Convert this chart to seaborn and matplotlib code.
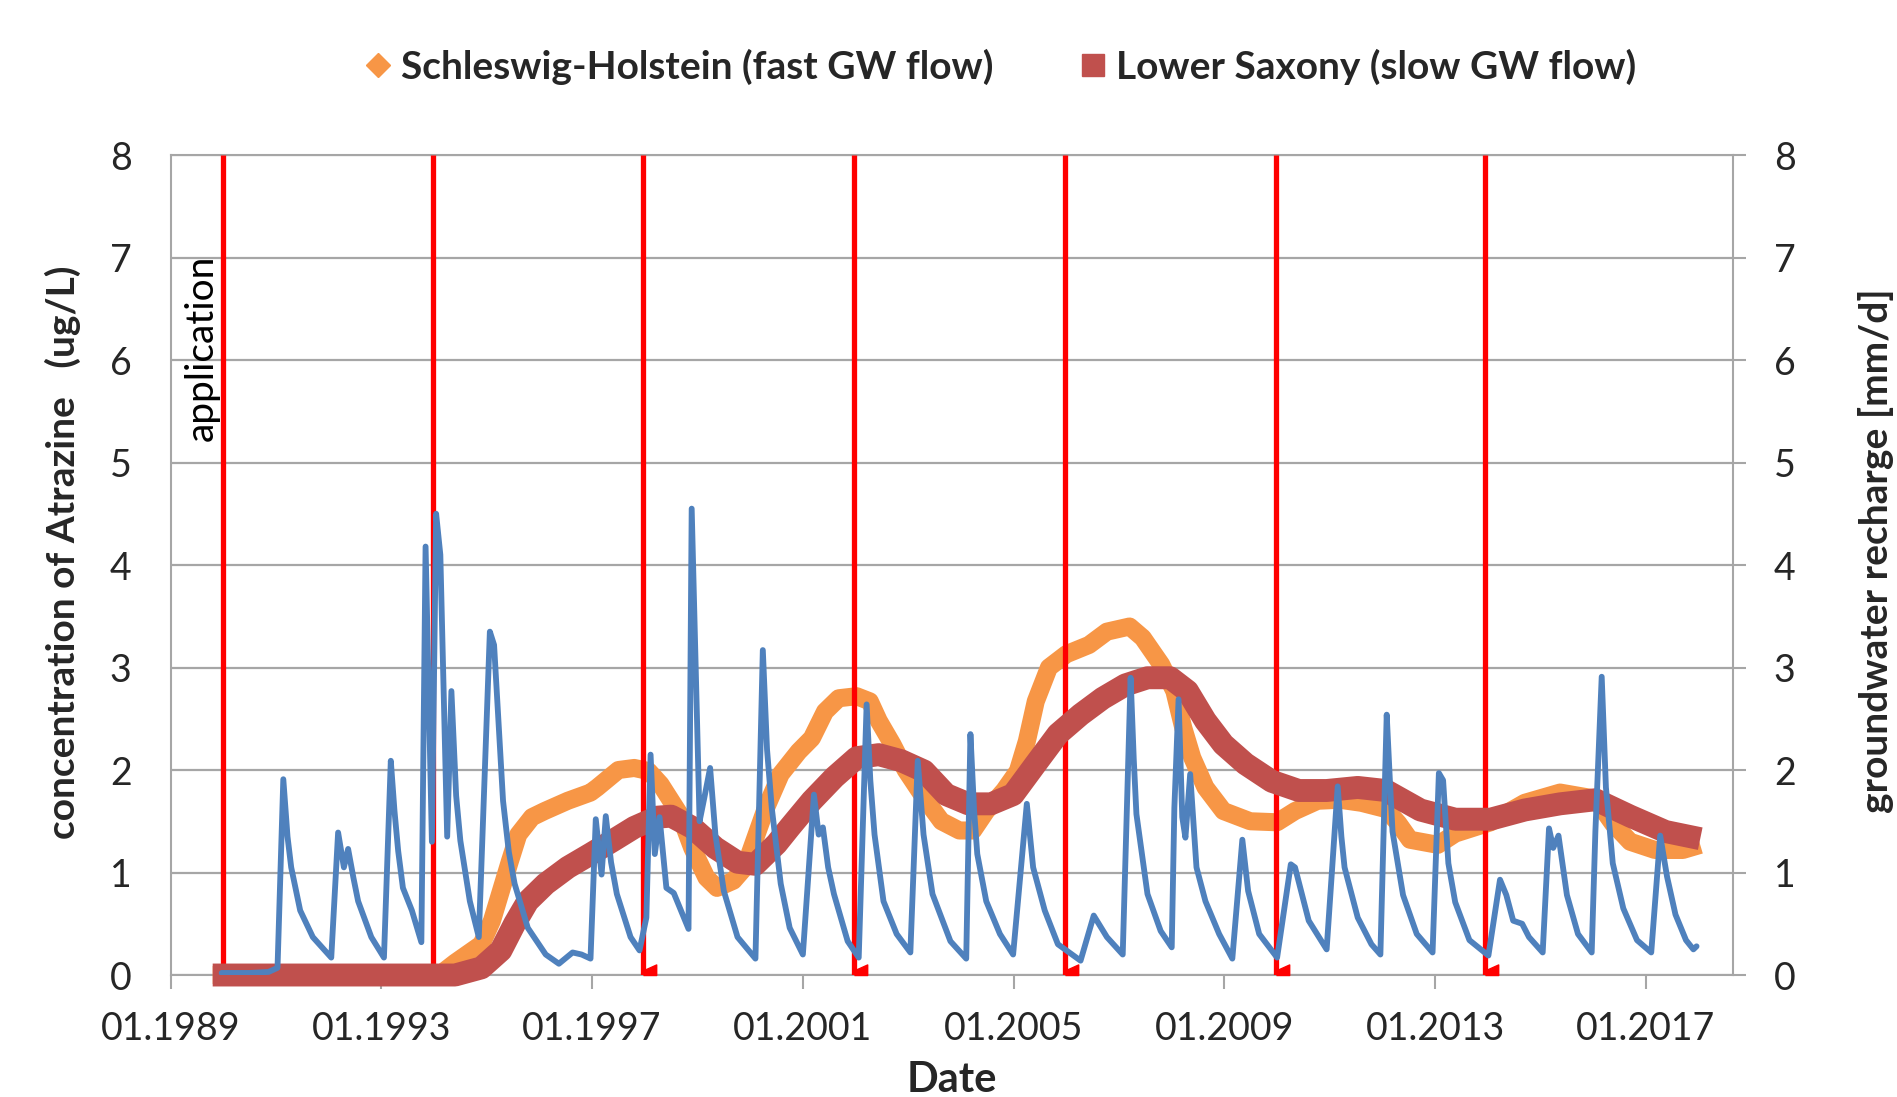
import numpy as np
import pandas as pd
import matplotlib.pyplot as plt
import seaborn as sns
from matplotlib.lines import Line2D
from matplotlib.ticker import FixedLocator, FuncFormatter

sns.set_theme(style="white")
plt.rcParams['font.family'] = ['Lato', 'DejaVu Sans']

# --- data (decimal years) ---
sh_year = [1989.8, 1994.1, 1994.4, 1994.9, 1995.1, 1995.27, 1995.44, 1995.6, 1995.86, 1996.1,
           1996.54, 1996.97, 1997.1, 1997.5, 1997.8, 1998.07, 1998.3, 1998.66, 1998.9, 1999.17,
           1999.37, 1999.68, 1999.9, 2000.3, 2000.58, 2000.92, 2001.17, 2001.42, 2001.68, 2002.02,
           2002.27, 2002.44, 2002.7, 2002.95, 2003.3, 2003.63, 2003.97, 2004.23, 2004.48, 2004.82,
           2005.08, 2005.25, 2005.42, 2005.67, 2006.0, 2006.43, 2006.77, 2007.2, 2007.45, 2007.8,
           2008.05, 2008.22, 2008.39, 2008.64, 2008.98, 2009.49, 2010.0, 2010.34, 2010.77, 2011.19,
           2011.6, 2012.06, 2012.3, 2012.52, 2013.05, 2013.38, 2014.05, 2014.7, 2015.37, 2016.04,
           2016.37, 2016.7, 2017.17, 2017.7, 2018.03]
sh_conc = [0.0, 0.0, 0.12, 0.3, 0.53, 0.82, 1.11, 1.37, 1.54, 1.6,
           1.7, 1.78, 1.83, 2.0, 2.02, 1.99, 1.86, 1.57, 1.24, 0.95,
           0.85, 0.92, 1.05, 1.63, 1.96, 2.18, 2.31, 2.57, 2.7, 2.72,
           2.67, 2.48, 2.25, 2.0, 1.73, 1.5, 1.41, 1.41, 1.6, 1.8,
           1.99, 2.28, 2.67, 3.0, 3.13, 3.22, 3.35, 3.4, 3.29, 3.03,
           2.77, 2.41, 2.12, 1.83, 1.6, 1.5, 1.49, 1.6, 1.7, 1.71,
           1.68, 1.62, 1.48, 1.32, 1.27, 1.38, 1.49, 1.68, 1.78, 1.72,
           1.48, 1.3, 1.22, 1.22, 1.27]

ls_year = [1989.8, 1994.4, 1994.9, 1995.27, 1995.53, 1995.78, 1996.12, 1996.54, 1996.97, 1997.39,
           1997.8, 1998.24, 1998.5, 1998.9, 1999.34, 1999.76, 2000.1, 2000.5, 2000.75, 2001.17,
           2001.6, 2002.02, 2002.44, 2002.87, 2003.3, 2003.72, 2004.14, 2004.57, 2004.99, 2005.42,
           2005.84, 2006.27, 2006.69, 2007.12, 2007.54, 2007.97, 2008.3, 2008.64, 2008.98, 2009.4,
           2009.9, 2010.41, 2010.94, 2011.53, 2012.06, 2012.72, 2013.38, 2014.05, 2014.7, 2015.37,
           2016.04, 2016.7, 2017.37, 2018.03]
ls_conc = [0.0, 0.0, 0.07, 0.24, 0.5, 0.72, 0.89, 1.05, 1.18, 1.31,
           1.44, 1.54, 1.55, 1.44, 1.24, 1.1, 1.08, 1.28, 1.44, 1.7,
           1.93, 2.12, 2.15, 2.09, 1.99, 1.76, 1.67, 1.67, 1.76, 2.06,
           2.35, 2.54, 2.7, 2.83, 2.9, 2.9, 2.77, 2.48, 2.25, 2.06,
           1.89, 1.8, 1.8, 1.83, 1.8, 1.61, 1.52, 1.52, 1.61, 1.67,
           1.71, 1.55, 1.4, 1.33]

gw_year = [1989.97, 1990.5, 1990.86, 1991.03, 1991.14, 1991.22, 1991.29, 1991.46, 1991.7, 1992.05,
           1992.18, 1992.29, 1992.37, 1992.47, 1992.56, 1992.81, 1993.05, 1993.18, 1993.25, 1993.32,
           1993.41, 1993.58, 1993.76, 1993.84, 1993.96, 1994.04, 1994.12, 1994.25, 1994.33, 1994.42,
           1994.5, 1994.68, 1994.85, 1995.06, 1995.14, 1995.31, 1995.42, 1995.53, 1995.78, 1996.12,
           1996.37, 1996.63, 1996.8, 1996.97, 1997.07, 1997.18, 1997.26, 1997.36, 1997.47, 1997.73,
           1997.9, 1998.03, 1998.11, 1998.19, 1998.28, 1998.41, 1998.55, 1998.75, 1998.83, 1998.89,
           1999.04, 1999.13, 1999.24, 1999.34, 1999.5, 1999.76, 2000.1, 2000.24, 2000.32, 2000.41,
           2000.58, 2000.75, 2001.0, 2001.21, 2001.3, 2001.38, 2001.48, 2001.59, 2001.85, 2002.06,
           2002.21, 2002.28, 2002.36, 2002.53, 2002.78, 2003.04, 2003.18, 2003.29, 2003.46, 2003.8,
           2004.1, 2004.18, 2004.25, 2004.31, 2004.48, 2004.74, 2004.99, 2005.25, 2005.37, 2005.59,
           2005.84, 2006.27, 2006.52, 2006.77, 2007.07, 2007.22, 2007.28, 2007.33, 2007.54, 2007.79,
           2008.0, 2008.05, 2008.13, 2008.2, 2008.26, 2008.35, 2008.47, 2008.64, 2008.9, 2009.15,
           2009.34, 2009.45, 2009.66, 2010.0, 2010.26, 2010.34, 2010.6, 2010.94, 2011.15, 2011.22,
           2011.28, 2011.53, 2011.79, 2011.96, 2012.08, 2012.14, 2012.19, 2012.39, 2012.65, 2012.95,
           2013.07, 2013.15, 2013.25, 2013.38, 2013.65, 2014.01, 2014.23, 2014.35, 2014.48, 2014.65,
           2014.78, 2015.04, 2015.16, 2015.24, 2015.34, 2015.5, 2015.71, 2015.97, 2016.04, 2016.16,
           2016.24, 2016.37, 2016.57, 2016.83, 2017.1, 2017.27, 2017.4, 2017.56, 2017.76, 2017.9,
           2017.96]
gw_recharge = [0.02, 0.02, 0.03, 0.07, 1.91, 1.35, 1.05, 0.63, 0.37, 0.17,
               1.39, 1.05, 1.23, 0.95, 0.72, 0.37, 0.17, 2.09, 1.6, 1.21,
               0.85, 0.63, 0.32, 4.18, 1.3, 4.5, 4.1, 1.35, 2.77, 1.75,
               1.31, 0.72, 0.37, 3.35, 3.22, 1.7, 1.2, 0.89, 0.46, 0.2,
               0.11, 0.22, 0.2, 0.16, 1.52, 0.98, 1.55, 1.1, 0.79, 0.37,
               0.24, 0.56, 2.15, 1.18, 1.54, 0.85, 0.8, 0.55, 0.45, 4.55,
               1.5, 1.73, 2.02, 1.37, 0.82, 0.37, 0.16, 3.17, 2.2, 1.63,
               0.89, 0.46, 0.2, 1.76, 1.37, 1.44, 1.05, 0.79, 0.33, 0.17,
               2.64, 1.9, 1.37, 0.72, 0.4, 0.22, 2.09, 1.37, 0.79, 0.33,
               0.16, 2.35, 1.6, 1.18, 0.72, 0.4, 0.2, 1.67, 1.05, 0.63,
               0.3, 0.14, 0.58, 0.37, 0.2, 2.9, 2.1, 1.57, 0.79, 0.43,
               0.27, 1.63, 2.69, 1.54, 1.34, 1.96, 1.05, 0.72, 0.4, 0.16,
               1.32, 0.82, 0.4, 0.17, 1.08, 1.05, 0.53, 0.25, 1.84, 1.35,
               1.05, 0.56, 0.3, 0.2, 2.54, 1.9, 1.4, 0.78, 0.4, 0.22,
               1.97, 1.9, 1.09, 0.71, 0.34, 0.19, 0.93, 0.78, 0.53, 0.5,
               0.37, 0.22, 1.43, 1.24, 1.36, 0.78, 0.4, 0.22, 1.4, 2.91,
               1.83, 1.09, 0.65, 0.34, 0.22, 1.36, 0.96, 0.59, 0.34, 0.25,
               0.28]

application_years = [1990.0, 1993.98, 1997.97, 2001.97, 2005.97, 2009.97, 2013.95]
tick_years = [1989, 1993, 1997, 2001, 2005, 2009, 2013, 2017]

sh_label = 'Schleswig-Holstein (fast GW flow)'
ls_label = 'Lower Saxony (slow GW flow)'

ORANGE = '#F79646'
BROWN = '#C0504D'
BLUE = '#4F81BD'
RED = '#FF0000'
GRID = '#A6A6A6'

sh_df = pd.DataFrame({'year': sh_year, 'conc': sh_conc})
ls_df = pd.DataFrame({'year': ls_year, 'conc': ls_conc})
gw_df = pd.DataFrame({'year': gw_year, 'recharge': gw_recharge})

fig, ax = plt.subplots(figsize=(18.97, 10.97), dpi=100)
fig.subplots_adjust(left=0.0899, right=0.9135, bottom=0.1112, top=0.8587)

sns.lineplot(data=sh_df, x='year', y='conc', ax=ax, color=ORANGE, linewidth=13,
             estimator=None, sort=False, zorder=3, clip_on=False, legend=False)
# application dates
ax.vlines(application_years, 0, 8, color=RED, linewidth=3.8, zorder=4)
flag = [(0, 0), (1, 0), (1, 0.8), (0, 0.35)]
ax.plot(application_years, [0] * len(application_years), linestyle='none', marker=flag,
        markersize=19, color=RED, zorder=4, clip_on=False)
sns.lineplot(data=ls_df, x='year', y='conc', ax=ax, color=BROWN, linewidth=16.5,
             estimator=None, sort=False, zorder=5, clip_on=False, legend=False)
for ln in ax.lines:
    ln.set_solid_capstyle('butt')
    ln.set_solid_joinstyle('round')

ax.text(1989.6, 6.12, 'application', rotation=90, ha='center', va='center',
        fontsize=28, color='black', zorder=6)

ax.set_xlim(1989.0, 2018.65)
ax.set_ylim(0, 8)
ax.xaxis.set_major_locator(FixedLocator(tick_years))
ax.xaxis.set_major_formatter(FuncFormatter(lambda v, p: f'01.{int(round(v))}'))
ax.set_yticks(range(0, 9))
ax.yaxis.grid(True, color=GRID, linewidth=1.6)
ax.set_axisbelow(True)
ax.tick_params(axis='x', direction='out', length=10, width=1.5, color=GRID,
               labelsize=27, pad=16, bottom=True)
ax.tick_params(axis='y', length=0, labelsize=27, pad=28)
for s in ax.spines.values():
    s.set_color(GRID)
    s.set_linewidth(1.5)
ax.set_xlabel('Date', fontsize=30, fontweight='bold', labelpad=10)
ax.set_ylabel('')

ax2 = ax.twinx()
sns.lineplot(data=gw_df, x='year', y='recharge', ax=ax2, color=BLUE, linewidth=4.2,
             estimator=None, sort=False, legend=False)
ax2.lines[0].set_solid_joinstyle('round')
ax2.set_ylim(0, 8)
ax2.set_yticks(range(0, 9))
ax2.set_ylabel('')
ax2.tick_params(axis='y', direction='out', length=9.5, width=1.5, color=GRID,
                labelsize=27, pad=20, right=True)
for s in ax2.spines.values():
    s.set_visible(False)

fig.text(63 / 1897, 0.497, 'concentration of Atrazine   (ug/L)', rotation=90,
         ha='center', va='center', fontsize=28, fontweight='bold')
fig.text(1858 / 1897, 0.498, 'groundwater recharge [mm/d]', rotation=90,
         ha='left', va='center', fontsize=28, fontweight='bold')

handles = [Line2D([], [], color=ORANGE, marker='D', linestyle='none', markersize=12),
           Line2D([], [], color=BROWN, marker='s', linestyle='none', markersize=16)]
fig.legend(handles, [sh_label, ls_label], loc='center', bbox_to_anchor=(0.528, 0.939),
           ncol=2, frameon=False, prop={'weight': 'bold', 'size': 28},
           handlelength=0.6, handletextpad=0.3, columnspacing=2.25)

fig.savefig('out.png', dpi=100)
